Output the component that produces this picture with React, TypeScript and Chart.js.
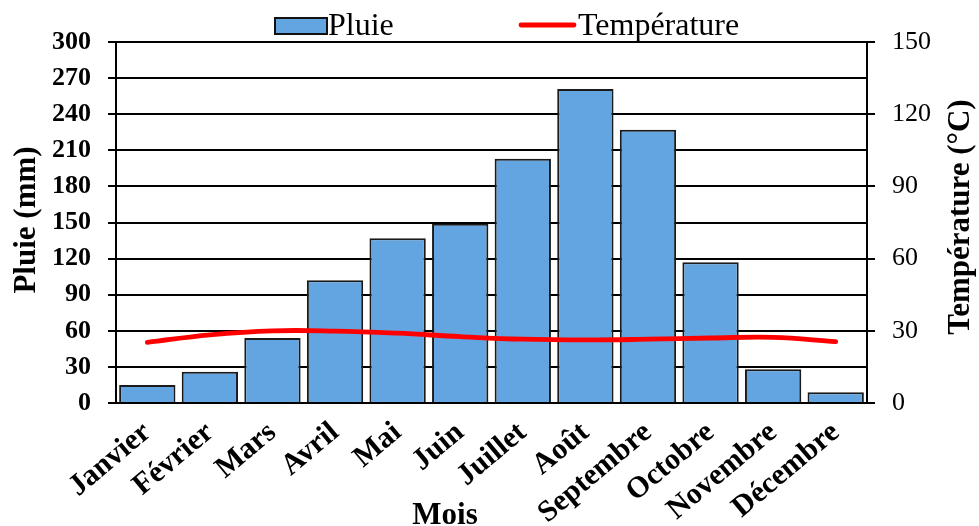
import React, { useEffect, useRef } from "react";
import { Chart, registerables } from "chart.js";

Chart.register(...registerables);

const months = ["Janvier", "Février", "Mars", "Avril", "Mai", "Juin", "Juillet", "Août", "Septembre", "Octobre", "Novembre", "Décembre"];
const rainMm = [15, 26, 54, 102, 137, 149, 203, 261, 227, 117, 28, 9];
const temperatureC = [25.2, 28.3, 30.0, 29.9, 29.0, 27.6, 26.5, 26.2, 26.5, 27.0, 27.3, 25.5];
const rainTicks = [0, 30, 60, 90, 120, 150, 180, 210, 240, 270, 300];
const tempTicks = [0, 30, 60, 90, 120, 150];

const SERIF = "'Liberation Serif', 'Times New Roman', serif";

const textPlugin = {
  id: "customText",
  afterDraw(chart: any) {
    const ctx = chart.ctx;
    ctx.save();
    ctx.fillStyle = "#000";
    // legend
    ctx.font = `32px ${SERIF}`;
    ctx.textAlign = "left";
    ctx.textBaseline = "alphabetic";
    ctx.fillStyle = "#63A5E1";
    ctx.fillRect(275, 18, 52, 16);
    ctx.strokeStyle = "#111";
    ctx.lineWidth = 2;
    ctx.strokeRect(275, 18, 52, 16);
    ctx.fillStyle = "#000";
    ctx.fillText("Pluie", 328, 35);
    ctx.strokeStyle = "#FF0000";
    ctx.lineWidth = 4.8;
    ctx.lineCap = "round";
    ctx.beginPath();
    ctx.moveTo(521, 25);
    ctx.lineTo(574, 25);
    ctx.stroke();
    ctx.fillText("Température", 578, 35);
    // axis titles
    ctx.font = `bold 31px ${SERIF}`;
    ctx.textAlign = "center";
    ctx.fillText("Mois", 445, 524);
    ctx.save();
    ctx.translate(35, 220);
    ctx.rotate(-Math.PI / 2);
    ctx.fillText("Pluie (mm)", 0, 0);
    ctx.restore();
    ctx.save();
    ctx.translate(969, 217);
    ctx.rotate(-Math.PI / 2);
    ctx.fillText("Température (°C)", 0, 0);
    ctx.restore();
    ctx.restore();
  },
};

export default function App() {
  const ref = useRef<HTMLCanvasElement | null>(null);
  useEffect(() => {
    if (!ref.current) return;
    const chart = new Chart(ref.current, {
      type: "bar",
      data: {
        labels: months,
        datasets: [
          {
            type: "line",
            label: "Température",
            data: temperatureC,
            yAxisID: "y1",
            borderColor: "#FF0000",
            backgroundColor: "#FF0000",
            borderWidth: 4.8,
            borderCapStyle: "round",
            tension: 0.4,
            pointRadius: 0,
            order: 0,
          } as any,
          {
            type: "bar",
            label: "Pluie",
            data: rainMm,
            yAxisID: "y",
            backgroundColor: "#63A5E1",
            borderColor: "#1a1a1a",
            borderWidth: 2,
            categoryPercentage: 0.9,
            barPercentage: 1,
            order: 1,
          },
        ],
      },
      options: {
        animation: false,
        responsive: true,
        maintainAspectRatio: false,
        layout: { padding: { top: 42, left: 0, right: 0, bottom: 0 } },
        plugins: { legend: { display: false }, tooltip: { enabled: false } },
        scales: {
          x: {
            grid: { display: false, drawTicks: false },
            border: { display: true, color: "#000", width: 2 },
            ticks: {
              color: "#000",
              font: { family: SERIF, size: 30, weight: "bold" },
              minRotation: 40,
              maxRotation: 40,
              autoSkip: false,
              padding: 12,
            },
            afterFit: (s: any) => { s.height = 123; },
          },
          y: {
            position: "left",
            min: 0,
            max: 300,
            afterBuildTicks: (s: any) => { s.ticks = rainTicks.map((v) => ({ value: v })); },
            grid: { color: "#000", lineWidth: 2, tickLength: 8, drawTicks: true },
            border: { color: "#000", width: 2 },
            ticks: { color: "#000", font: { family: SERIF, size: 26, weight: "bold" }, padding: 17 },
            afterFit: (s: any) => { s.width = 116; },
          },
          y1: {
            position: "right",
            min: 0,
            max: 150,
            afterBuildTicks: (s: any) => { s.ticks = tempTicks.map((v) => ({ value: v })); },
            grid: { drawOnChartArea: false, color: "#000", lineWidth: 2, tickLength: 8, drawTicks: true },
            border: { color: "#000", width: 2 },
            ticks: { color: "#000", font: { family: SERIF, size: 26 }, padding: 17 },
            afterFit: (s: any) => { s.width = 112; },
          },
        },
      },
      plugins: [textPlugin],
    });
    return () => chart.destroy();
  }, []);
  return (
    <div style={{ position: "absolute", left: 0, top: 0, width: 979, height: 526, background: "#fff" }}>
      <canvas ref={ref} />
    </div>
  );
}
